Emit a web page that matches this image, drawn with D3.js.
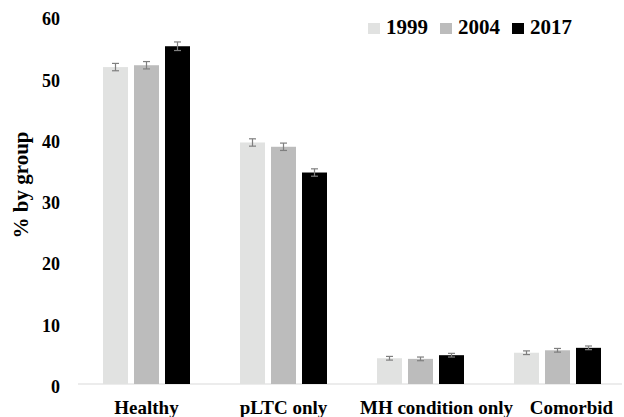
<!DOCTYPE html>
<html>
<head>
<meta charset="utf-8">
<script src="https://cdn.jsdelivr.net/npm/d3@7"></script>
<style>
  html, body { margin: 0; padding: 0; background: #fff; }
  svg text { font-family: "Liberation Serif", "Times New Roman", serif; font-weight: bold; fill: #000; }
</style>
</head>
<body>
<svg id="chart" width="624" height="417"></svg>
<script>
const categories = ["Healthy", "pLTC only", "MH condition only", "Comorbid"];
const years = ["1999", "2004", "2017"];
const values1999 = [51.7, 39.4, 4.2, 5.1];
const values2004 = [52.0, 38.7, 4.1, 5.5];
const values2017 = [55.1, 34.5, 4.7, 5.9];
const errors1999 = [0.6, 0.6, 0.3, 0.3];
const errors2004 = [0.6, 0.6, 0.3, 0.3];
const errors2017 = [0.7, 0.6, 0.3, 0.3];
const yTicks = [0, 10, 20, 30, 40, 50, 60];
const yLabel = "% by group";

const seriesValues = [values1999, values2004, values2017];
const seriesErrors = [errors1999, errors2004, errors2017];
const colors = ["#e1e2e1", "#bcbcbc", "#000000"];
const labelShift = [0, 0, 16, 14];

const svg = d3.select("#chart");

const x = d3.scaleBand().domain(categories).range([78, 626]).padding(0);
const groupW = 93;
const xSub = d3.scaleBand().domain(years).range([0, groupW])
  .paddingInner(6 / 31).paddingOuter(3 / 31);
const y = d3.scaleLinear().domain([0, 60]).range([384, 16.2]);

const data = [];
categories.forEach((c, i) => {
  years.forEach((yr, j) => {
    data.push({ cat: c, year: yr, s: j, v: seriesValues[j][i], e: seriesErrors[j][i] });
  });
});

const offset = (x.bandwidth() - groupW) / 2;

// baseline axis
svg.append("line")
  .attr("x1", 78).attr("x2", 622)
  .attr("y1", y(0)).attr("y2", y(0))
  .attr("stroke", "#d9d9d9").attr("stroke-width", 1.2);

// bars
svg.append("g").selectAll("rect").data(data).join("rect")
  .attr("x", d => x(d.cat) + offset + xSub(d.year))
  .attr("width", xSub.bandwidth())
  .attr("y", d => y(d.v))
  .attr("height", d => y(0) - y(d.v))
  .attr("fill", d => colors[d.s]);

// error bars
const eg = svg.append("g").attr("stroke", "#7f7f7f").attr("stroke-width", 1.2);
data.forEach(d => {
  const cx = x(d.cat) + offset + xSub(d.year) + xSub.bandwidth() / 2;
  const y1 = y(d.v + d.e), y2 = y(d.v - d.e);
  eg.append("line").attr("x1", cx).attr("x2", cx).attr("y1", y1).attr("y2", y2);
  eg.append("line").attr("x1", cx - 3.5).attr("x2", cx + 3.5).attr("y1", y1).attr("y2", y1);
  eg.append("line").attr("x1", cx - 3.5).attr("x2", cx + 3.5).attr("y1", y2).attr("y2", y2);
});

// y tick labels
svg.append("g").selectAll("text").data(yTicks).join("text")
  .attr("x", 60).attr("y", d => y(d) + 9)
  .attr("text-anchor", "end")
  .style("font-size", "18px")
  .text(d => d);

// category labels
svg.append("g").selectAll("text").data(categories).join("text")
  .attr("x", (d, i) => x(d) + x.bandwidth() / 2 + labelShift[i])
  .attr("y", 414)
  .attr("text-anchor", "middle")
  .style("font-size", "19px")
  .text(d => d);

// y label
svg.append("text")
  .attr("transform", "translate(28,185) rotate(-90)")
  .attr("text-anchor", "middle")
  .style("font-size", "21px")
  .text(yLabel);

// legend
const legendX = [368, 440, 512];
const lg = svg.append("g");
years.forEach((yr, j) => {
  lg.append("rect").attr("x", legendX[j]).attr("y", 23).attr("width", 12).attr("height", 11)
    .attr("fill", colors[j]);
  lg.append("text").attr("x", legendX[j] + 18).attr("y", 34)
    .style("font-size", "21px").text(yr);
});
</script>
</body>
</html>
